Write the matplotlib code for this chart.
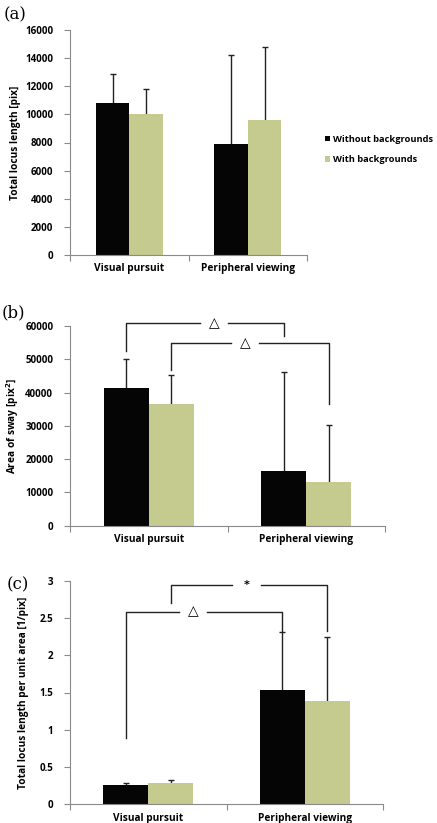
import matplotlib
matplotlib.use("Agg")
import matplotlib.pyplot as plt
import numpy as np

categories = ["Visual pursuit", "Peripheral viewing"]
series_names = ["Without backgrounds", "With backgrounds"]

# (a) Total locus length [pix]
a_without = [10800, 7900]
a_without_err = [2100, 6300]
a_with = [10050, 9600]
a_with_err = [1750, 5200]

# (b) Area of sway [pix^2]
b_without = [41500, 16500]
b_without_err = [8700, 29800]
b_with = [36500, 13000]
b_with_err = [8700, 17400]

# (c) Total locus length per unit area [1/pix]
c_without = [0.255, 1.54]
c_without_err = [0.035, 0.77]
c_with = [0.28, 1.38]
c_with_err = [0.05, 0.86]

# significance brackets: (left bar (cat, series), right bar (cat, series), left bottom, top, right bottom, symbol)
b_brackets = [((0, 0), (1, 0), 52500, 60800, 57000, "\u25b3"),
              ((0, 1), (1, 1), 46800, 54800, 36500, "\u25b3")]
c_brackets = [((0, 0), (1, 0), 0.89, 2.585, 2.33, "\u25b3"),
              ((0, 1), (1, 1), 2.70, 2.94, 2.32, "*")]

BLACK = "#050505"
GREEN = "#C5CA8F"
AXC = "#8a8a8a"
FONT = "Open Sans"

plt.rcParams["font.family"] = [FONT, "DejaVu Sans"]
plt.rcParams["font.weight"] = "bold"

fig = plt.figure(figsize=(4.37, 8.23), dpi=100)

W = 437.0
H = 823.0


def mkax(left, right, top, bottom):
    return fig.add_axes([left / W, 1 - bottom / H, (right - left) / W, (bottom - top) / H])


def draw(ax, without, without_err, with_, with_err, ymax, ystep, ylabel, width):
    x = np.arange(len(categories))
    b1 = ax.bar(x - width / 2, without, width, color=BLACK, label=series_names[0], zorder=2)
    b2 = ax.bar(x + width / 2, with_, width, color=GREEN, label=series_names[1], zorder=2)
    for xs, vals, errs in [(x - width / 2, without, without_err), (x + width / 2, with_, with_err)]:
        _, caps, _ = ax.errorbar(xs, vals, yerr=[np.zeros(len(x)), errs], fmt="none",
                                 ecolor="#222222", elinewidth=1.0, capsize=2.2, capthick=1.0,
                                 zorder=1)
        caps[0].set_visible(False)
    ax.set_xlim(-0.5, len(categories) - 0.5)
    ax.set_ylim(0, ymax)
    ax.set_yticks(np.arange(0, ymax + ystep / 2, ystep))
    ax.yaxis.set_major_formatter(matplotlib.ticker.FuncFormatter(lambda v, p: f"{v:g}"))
    ax.set_xticks([-0.5, 0.5, 1.5])
    ax.set_xticklabels([])
    ax.set_xticks(x, minor=True)
    ax.set_xticklabels(categories, minor=True, fontsize=7.3, fontweight="bold")
    ax.tick_params(axis="x", which="minor", length=0, pad=6)
    ax.tick_params(axis="x", which="major", length=4, color=AXC, width=0.8)
    ax.tick_params(axis="y", length=4, color=AXC, width=0.8, labelsize=7, pad=8)
    for lab in ax.get_yticklabels():
        lab.set_fontweight("bold")
    for s in ["top", "right"]:
        ax.spines[s].set_visible(False)
    for s in ["left", "bottom"]:
        ax.spines[s].set_color(AXC)
        ax.spines[s].set_linewidth(0.8)
    ax.set_ylabel(ylabel, fontsize=7.3, fontweight="bold")
    return b1, b2


def brackets(ax, specs, width, sym_positions):
    for (l, r, lb, top, rb, sym), sx in zip(specs, sym_positions):
        xl = l[0] + (l[1] - 0.5) * width
        xr = r[0] + (r[1] - 0.5) * width
        gap = 0.09
        ax.plot([xl, xl, sx - gap], [lb, top, top], color="#222222", lw=1.0, clip_on=False, zorder=3)
        ax.plot([sx + gap, xr, xr], [top, top, rb], color="#222222", lw=1.0, clip_on=False, zorder=3)
        if sym == "*":
            ax.text(sx, top, sym, ha="center", va="center", fontsize=8, family="DejaVu Sans",
                    fontweight="bold", clip_on=False)
        else:
            ax.text(sx, top, sym, ha="center", va="center", fontsize=10, family="DejaVu Sans",
                    fontweight="normal", clip_on=False)


def px2x(px, left, right):
    return -0.5 + (px - left) / (right - left) * 2


# Panel (a)
ax_a = mkax(70, 307, 30, 255)
wa = 33.5 / 118.5
b1, b2 = draw(ax_a, a_without, a_without_err, a_with, a_with_err, 16000, 2000,
              "Total locus length [pix]", wa)
ax_a.yaxis.set_label_coords(-0.205, 0.5)
fig.legend(handles=[b1, b2], labels=series_names, loc="upper left",
           bbox_to_anchor=(323 / W, 1 - 133 / H), frameon=False,
           handlelength=0.55, handleheight=0.55, handletextpad=0.3, labelspacing=1.25,
           borderpad=0.2, borderaxespad=0,
           prop=dict(family=FONT, weight="bold", size=6.7))

# Panel (b)
ax_b = mkax(70, 385, 326, 525.7)
wb = 45 / 157.5
draw(ax_b, b_without, b_without_err, b_with, b_with_err, 60000, 10000,
     "Area of sway [pix$^{\\mathbf{2}}$]", wb)
ax_b.yaxis.set_label_coords(-0.155, 0.5)
brackets(ax_b, b_brackets, wb, [px2x(214, 70, 385), px2x(245, 70, 385)])

# Panel (c)
ax_c = mkax(70, 383, 580.7, 804.3)
wc = 45 / 156.5
draw(ax_c, c_without, c_without_err, c_with, c_with_err, 3, 0.5,
     "Total locus length per unit area [1/pix]", wc)
ax_c.yaxis.set_label_coords(-0.13, 0.5)
brackets(ax_c, c_brackets, wc, [px2x(193, 70, 383), px2x(246.5, 70, 383)])

# panel labels
for lbl, xx, yy in [("(a)", 4, 15), ("(b)", 2, 313), ("(c)", 7, 585)]:
    fig.text(xx / W, 1 - yy / H, lbl, fontsize=12, family="DejaVu Serif",
             fontweight="normal", va="center", ha="left")

fig.savefig("out.png", dpi=100)
